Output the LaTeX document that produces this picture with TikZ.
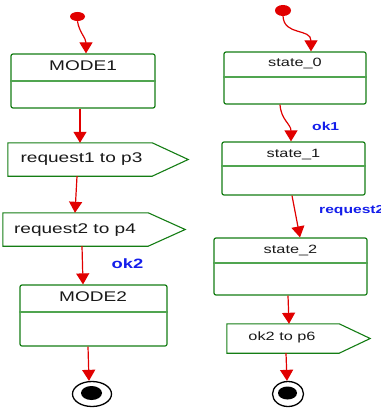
\documentclass[tikz,border=0pt]{standalone}
\usepackage{fontspec}
\newfontfamily\diagfont[FakeStretch=1.36]{Liberation Sans}
\usetikzlibrary{arrows.meta,shapes.geometric}
\definecolor{boxgreen}{RGB}{20,125,20}
\definecolor{divgreen}{RGB}{80,165,80}
\definecolor{flowred}{RGB}{225,0,0}
\definecolor{guardblue}{RGB}{20,30,235}
\definecolor{inktext}{RGB}{25,25,25}

\begin{document}
\begin{tikzpicture}[x=1pt,y=-1pt,
  statebox/.style={draw=boxgreen, line width=1.2pt, rounded corners=2pt, fill=white, inner sep=0pt},
  sendbox/.style={inner sep=0pt},
  sendshape/.style={draw=boxgreen, line width=1.1pt, fill=white, line join=miter},
  divider/.style={draw=divgreen, line width=1.1pt},
  bigname/.style={font={\diagfont\fontsize{14}{16}\selectfont}, text=inktext, inner sep=0pt, anchor=base},
  smallname/.style={font={\diagfont\fontsize{12}{14}\selectfont}, text=inktext, inner sep=0pt, anchor=base},
  guard/.style={font={\diagfont\bfseries\fontsize{11.5}{13}\selectfont}, text=guardblue, inner sep=0pt, anchor=base west},
  flow/.style={draw=flowred, line width=1.2pt, -{Triangle[width=13pt,length=11pt]}},
  initdot/.style={ellipse, fill=flowred, inner sep=0pt},
  finalring/.style={ellipse, draw=black, line width=1.3pt, fill=white, inner sep=0pt},
  finaldot/.style={ellipse, fill=black, inner sep=0pt}]

\fill[white] (0,0) rectangle (380,409);
\useasboundingbox (0,0) rectangle (380,409);

% ---------- left machine ----------
\node[initdot, minimum width=15pt, minimum height=9pt] (i1) at (77.5,16.5) {};
\node[statebox, minimum width=144pt, minimum height=54pt] (m1) at (83,81) {};
\draw[divider] (m1.west |- 0,81) -- ++(146,0);
\node[bigname] (m1t) at (83,71) {MODE1};

\node[sendbox, minimum width=144pt, minimum height=33pt] (r1) at (80,159.5) {};
\draw[sendshape] (r1.north west) -- (r1.north east) -- ([xshift=36pt]r1.east)
  -- (r1.south east) -- (r1.south west) -- cycle;
\node[bigname] (r1t) at (81.5,162.5) {request1 to p3};

\node[sendbox, minimum width=145pt, minimum height=33pt] (r2) at (75.5,229.5) {};
\draw[sendshape] (r2.north west) -- (r2.north east) -- ([xshift=37pt]r2.east)
  -- (r2.south east) -- (r2.south west) -- cycle;
\node[bigname] (r2t) at (75,233) {request2 to p4};

\node[statebox, minimum width=147pt, minimum height=61pt] (m2) at (93.5,315.5) {};
\draw[divider] (m2.west |- 0,312) -- ++(149,0);
\node[bigname] (m2t) at (93,301.5) {MODE2};

\node[finalring, minimum width=39pt, minimum height=25pt] (f1) at (92,394) {};
\node[finaldot, minimum width=21pt, minimum height=14pt] (f1c) at (91.5,393) {};

\node[guard, font={\diagfont\bfseries\fontsize{13.5}{15}\selectfont}] (g2) at (111.5,268) {ok2};

\draw[flow] (i1.south) .. controls (79,32) and (86,38) .. ([xshift=3pt]m1.north);
\draw[flow] ([xshift=-3pt]m1.south) -- (r1.north);
\draw[flow] ([xshift=-3pt]r1.south) -- ([xshift=-0.5pt]r2.north);
\draw[flow] ([xshift=6.5pt]r2.south) -- ([xshift=-10.5pt]m2.north);
\draw[flow] ([xshift=-5.5pt]m2.south) -- ([xshift=-3pt]f1.north);

% ---------- right machine ----------
\node[initdot, minimum width=16pt, minimum height=11pt] (i2) at (283,10.5) {};
\node[statebox, minimum width=142pt, minimum height=52pt] (s0) at (295,78) {};
\draw[divider] (s0.west |- 0,77) -- ++(144,0);
\node[smallname] (s0t) at (295,67) {state\_0};

\node[statebox, minimum width=143pt, minimum height=53pt] (s1) at (293.5,168.5) {};
\draw[divider] (s1.west |- 0,166) -- ++(145,0);
\node[smallname] (s1t) at (293.5,157.5) {state\_1};

\node[statebox, minimum width=153pt, minimum height=57pt] (s2) at (290.5,266.5) {};
\draw[divider] (s2.west |- 0,263) -- ++(155,0);
\node[smallname] (s2t) at (290.5,253.5) {state\_2};

\node[sendbox, minimum width=112pt, minimum height=29pt] (p6) at (283,338.5) {};
\draw[sendshape] (p6.north west) -- (p6.north east) -- ([xshift=31pt]p6.east)
  -- (p6.south east) -- (p6.south west) -- cycle;
\node[smallname] (p6t) at (282,340) {ok2 to p6};

\node[finalring, minimum width=31pt, minimum height=25pt] (f2) at (288,394) {};
\node[finaldot, minimum width=19pt, minimum height=13pt] (f2c) at (287.5,393) {};

\node[guard] (g1) at (312,130) {ok1};
\node[guard] (g3) at (319,213.5) {request2};

\draw[flow] (i2.south) .. controls (284,36) and (311,28) .. ([xshift=16pt]s0.north);
\draw[flow] ([xshift=-15pt]s0.south) .. controls (281,120) and (291,124) .. ([xshift=-2.5pt]s1.north);
\draw[flow] ([xshift=-1.5pt]s1.south) -- ([xshift=9.5pt]s2.north);
\draw[flow] ([xshift=-2.5pt]s2.south) -- ([xshift=6pt]p6.north);
\draw[flow] ([xshift=3pt]p6.south) -- ([xshift=-1pt]f2.north);
\end{tikzpicture}
\end{document}
